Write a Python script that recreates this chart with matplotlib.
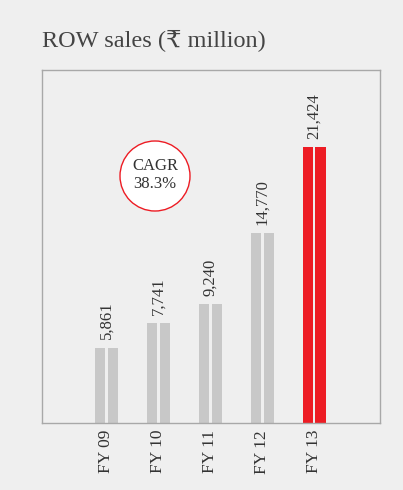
import matplotlib
matplotlib.use("Agg")
import matplotlib.pyplot as plt
from matplotlib.patches import Ellipse

categories = ["FY 09", "FY 10", "FY 11", "FY 12", "FY 13"]
values = [5861, 7741, 9240, 14770, 21424]
labels = ["5,861", "7,741", "9,240", "14,770", "21,424"]
colors = ["#c8c8c8", "#c8c8c8", "#c8c8c8", "#c8c8c8", "#ed1c24"]

bg = "#efefef"
serif = ["Liberation Serif", "DejaVu Serif", "DejaVu Sans"]

fig = plt.figure(figsize=(4.03, 4.90), dpi=100, facecolor=bg)
ax = fig.add_axes([42/403, (490-423)/490, 338/403, 353/490], facecolor=bg)

x = list(range(len(categories)))
hw = 0.193
off = 0.124
ax.bar([i - off for i in x], values, width=hw, color=colors, zorder=2)
ax.bar([i + off for i in x], values, width=hw, color=colors, zorder=2)

ax.set_xlim(-1.24, 5.27)
ax.set_ylim(0, 27450)

for i, (v, lab) in enumerate(zip(values, labels)):
    ax.annotate(lab, (i, v), xytext=(0, 6), textcoords="offset points",
                rotation=90, ha="center", va="bottom", fontsize=12,
                family=serif, color="#333333")

ax.set_xticks(x)
ax.set_xticklabels(categories, rotation=90, family=serif, fontsize=12.5, color="#333333")
ax.tick_params(axis="x", length=0, pad=5)
ax.set_yticks([])
for s in ax.spines.values():
    s.set_color("#a8a8a8")
    s.set_linewidth(1.0)

# CAGR circle
cx, cy = 155, 176
r = 35
fig.patches.append(Ellipse(((cx)/403, 1 - cy/490), 2*r/403, 2*r/490,
                           transform=fig.transFigure, facecolor="white",
                           edgecolor="#ed1c24", linewidth=1.0, zorder=5))
fig.text(cx/403, 1 - (cy-1)/490, "CAGR\n38.3%", ha="center", va="center",
         fontsize=12, family=serif, color="#333333", linespacing=1.1, zorder=6)

fig.text(42/403, 1 - 40/490, "ROW sales (\u20b9 million)", ha="left", va="center",
         fontsize=17.5, family=serif, color="#444444")

fig.savefig("out.png", dpi=100, facecolor=bg)
